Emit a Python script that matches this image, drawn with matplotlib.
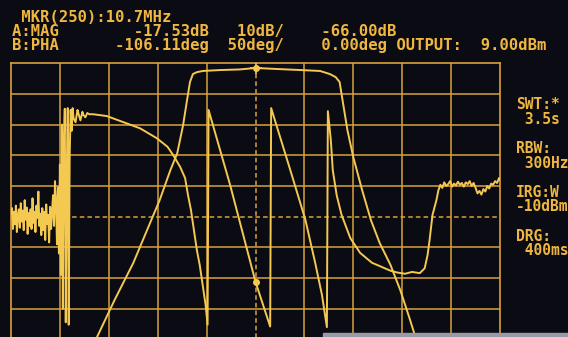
import numpy as np
import matplotlib.pyplot as plt
from matplotlib.patches import Rectangle

# sweep points 0..500, marker at point 250 (10.7 MHz)
mag_idx = [79, 88, 106, 125, 152, 163, 170, 176, 180, 183, 186, 190, 196, 214, 234, 250,
           275, 296, 316, 326, 332, 336, 339, 344, 350, 359, 368, 377, 388, 398, 408, 416]
mag_db = [-112.7, -105.2, -93.1, -81.1, -60.6, -50.8, -45.3, -36.1, -28.0, -22.1, -19.5,
          -18.9, -18.5, -18.2, -18.0, -17.53, -17.9, -18.2, -18.5, -19.5, -20.5, -22.1,
          -28.0, -37.8, -46.6, -57.3, -67.1, -74.6, -81.7, -89.9, -99.6, -107.8]

# phase: stopband noise, ringing, then wrapped sawtooth through the passband
pha_idx = list(range(0, 49)) + [
    49, 50, 51, 52, 53, 54, 55, 56, 57, 58, 59, 60, 61, 62, 63, 64, 66, 68, 69, 71, 73, 74, 76, 78, 80,
    84, 98, 115, 132, 149, 160, 166, 173, 178, 181, 184, 187, 190, 193, 196, 199, 201,
    202, 224, 250, 265,
    266, 285, 301, 311, 318, 323,
    324, 327, 329, 333, 338, 347, 357, 369, 388, 395, 403, 410, 418, 423, 426, 428, 431, 435,
    437, 439, 441, 443, 445, 447, 449, 451, 453, 455, 457, 459, 461, 463, 465, 467, 469, 471,
    473, 475, 477, 479, 481, 483, 485, 487, 489, 491, 493, 495, 497, 499, 500]
pha_deg = [5, 14, -20, 8, -12, 18, -25, 2, 12, -18, 22, -8, 10, -22, 27, -5, 15, -28, 6, -15,
           12, -20, 30, -10, 8, -25, 18, -2, 41, -15, 5, -30, 14, -22, 8, -38, 20, -12, 3, -42,
           16, -20, 10, 35, -15, 58, 25, -45, 48] + [
    -60, 85, -95, 150, -150, 120, 176, -172, 60, 177, -176, 100, 174, 140, 177, 160, 154, 174,
    168, 157, 171, 166, 162, 169, 167,
    167, 164, 154, 144, 128, 114, 100, 81, 63, 35, 11, -22, -54, -79, -111, -144, -176,
    174, 52, -106.11, -179,
    177, 79, -5, -75, -128, -180,
    172, 125, 76, 35, 3, -35, -59, -75, -88, -91, -93, -90, -92, -84, -62, -38, 3, 27,
    43, 52, 47, 56, 50, 53, 58, 49, 54, 51, 57, 52, 55, 49, 56, 53, 58, 50,
    55, 47, 38, 42, 36, 45, 41, 50, 46, 54, 52, 58, 55, 63, 60]

marker_idx = 250
marker_mag = -17.53
marker_pha = -106.11

header_lines = [
    ' MKR(250):10.7MHz',
    'A:MAG        -17.53dB   10dB/    -66.00dB',
    'B:PHA      -106.11deg  50deg/    0.00deg OUTPUT:  9.00dBm',
]
side_lines = ['SWT:*', ' 3.5s', '', 'RBW:', ' 300Hz', '', 'IRG:W', '-10dBm', '', 'DRG:', ' 400ms']

bg = '#0b0b13'
grid_c = '#d9a23c'
trace_c = '#f4c951'
text_c = '#f0b740'

W, H = 568, 337
fig = plt.figure(figsize=(W / 100, H / 100), dpi=100, facecolor=bg)

# graticule: x 11..500 px, top 63 px, 10 divisions of ~30.7 px (runs below the photo edge)
left, right, top, div = 11, 500, 63.3, 30.68
bottom = top + 10 * div
ax = fig.add_axes([left / W, 1 - bottom / H, (right - left) / W, 10 * div / H])
ax.set_facecolor(bg)
ax.set_xlim(0, 500)
ax.set_ylim(-116, -16)
ax.set_xticks([])
ax.set_yticks([])
for s in ax.spines.values():
    s.set_color(grid_c)
    s.set_linewidth(1.2)

for i in range(1, 10):
    ls = (0, (3, 2)) if i == 5 else '-'
    ax.axvline(i * 50, color=grid_c, lw=1.1, ls=ls, zorder=1)
    ax.axhline(-116 + i * 10, color=grid_c, lw=1.1, ls=ls, zorder=1)

ax.plot(mag_idx, mag_db, color=trace_c, lw=1.4, zorder=3, solid_joinstyle='round')
ax.plot([marker_idx], [marker_mag], 'o', color=trace_c, ms=4, zorder=4)
ax.plot([marker_idx], [marker_mag], '+', color=trace_c, ms=8, mew=1.2, zorder=4)

ax2 = ax.twinx()
ax2.set_ylim(-250, 250)
ax2.set_yticks([])
ax2.patch.set_visible(False)
for s in ax2.spines.values():
    s.set_visible(False)
ax2.plot(pha_idx, pha_deg, color=trace_c, lw=1.4, zorder=3, solid_joinstyle='round')
ax2.plot([marker_idx], [marker_pha], 'o', color=trace_c, ms=4, zorder=4)

# screen text, monospace like the instrument
fig.text(12 / W, 1 - 10 / H, '\n'.join(header_lines), color=text_c, fontsize=11.2,
         family='DejaVu Sans Mono', fontweight='bold', ha='left', va='top', linespacing=0.93)
fig.text(516 / W, 1 - 97 / H, '\n'.join(side_lines), color=text_c, fontsize=10.5,
         family='DejaVu Sans Mono', fontweight='bold', ha='left', va='top', linespacing=0.97)

# bezel edge showing at the bottom right of the photo
fig.patches.append(Rectangle((323 / W, 0), 1, 4 / H, transform=fig.transFigure,
                             color='#9a9aa6', zorder=10))

fig.savefig('out.png', dpi=100, facecolor=bg)
